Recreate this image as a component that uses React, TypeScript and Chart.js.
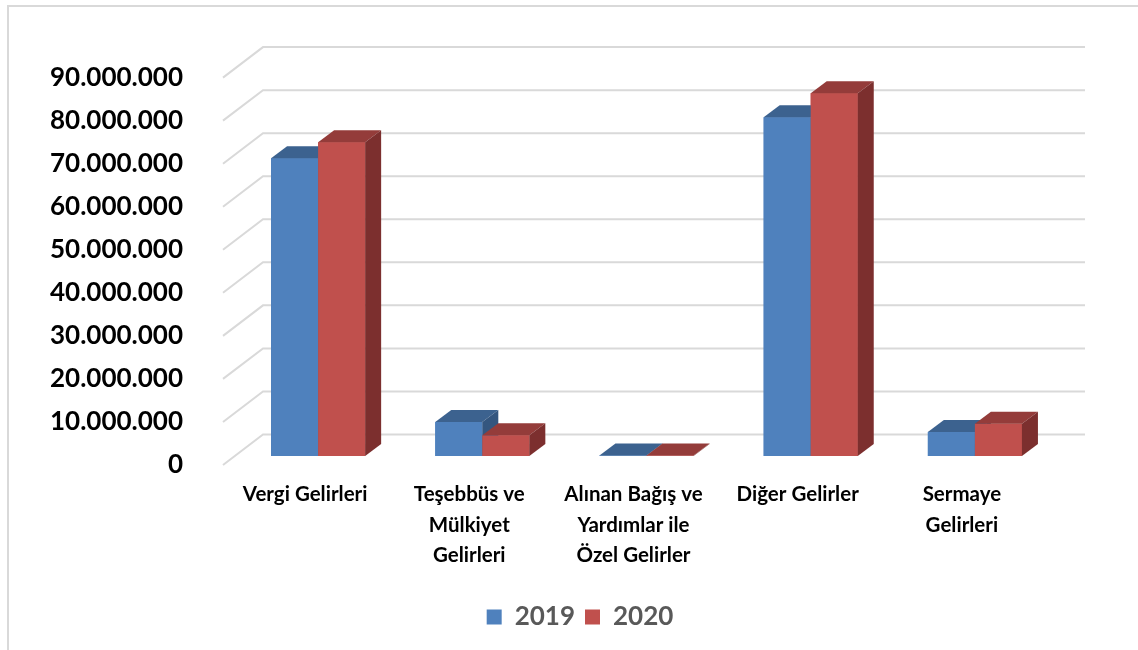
import React, { useEffect, useRef } from "react";
import { Chart, registerables } from "chart.js";

Chart.register(...registerables);

// Revenue categories (multi-line tick labels)
const categories: string[][] = [
  ["Vergi Gelirleri"],
  ["Teşebbüs ve", "Mülkiyet", "Gelirleri"],
  ["Alınan Bağış ve", "Yardımlar ile", "Özel Gelirler"],
  ["Diğer Gelirler"],
  ["Sermaye", "Gelirleri"],
];

const seriesNames = ["2019", "2020"];
const values2019 = [69200000, 7900000, 100000, 78700000, 5600000];
const values2020 = [72900000, 4800000, 100000, 84300000, 7500000];

const yMin = 0;
const yMax = 90000000;
const yStep = 10000000;

// Face colours per series: front, top, side
const frontColors = ["#4F81BD", "#C0504D"];
const topColors = ["#3C628F", "#943C3A"];
const sideColors = ["#34567F", "#7C2F2E"];

// Pseudo-3D geometry (pixels)
const BAR_DX = 16;
const BAR_DY = 12;
const WALL_DX = 27;
const WALL_DY = 21.5;
const FRONT_DX = -13;
const FRONT_DY = 9;

const formatThousands = (v: number) =>
  String(Math.round(v)).replace(/\B(?=(\d{3})+(?!\d))/g, ".");

const wallPlugin = {
  id: "wall3d",
  beforeDraw(chart: any) {
    const ctx = chart.ctx;
    ctx.save();
    ctx.strokeStyle = "#d9d9d9";
    ctx.lineWidth = 2;
    ctx.beginPath();
    ctx.moveTo(8, chart.height);
    ctx.lineTo(8, 6);
    ctx.lineTo(chart.width, 6);
    ctx.stroke();
    ctx.restore();
  },
  beforeDatasetsDraw(chart: any) {
    const ctx = chart.ctx;
    const { left, right } = chart.chartArea;
    const y = chart.scales.y;
    ctx.save();
    ctx.strokeStyle = "#d9d9d9";
    ctx.lineWidth = 2;
    for (let v = yMin; v <= yMax; v += yStep) {
      const py = y.getPixelForValue(v);
      ctx.beginPath();
      ctx.moveTo(left + FRONT_DX, py + FRONT_DY);
      ctx.lineTo(left + WALL_DX, py - WALL_DY);
      ctx.lineTo(right + WALL_DX + 1, py - WALL_DY);
      ctx.stroke();
    }
    ctx.restore();
  },
  afterDatasetsDraw(chart: any) {
    const ctx = chart.ctx;
    ctx.save();
    chart.data.datasets.forEach((_: any, i: number) => {
      const meta = chart.getDatasetMeta(i);
      meta.data.forEach((bar: any) => {
        const { x, y, base, width } = bar.getProps(["x", "y", "base", "width"], true);
        const l = x - width / 2;
        const r = x + width / 2;
        // front
        ctx.fillStyle = frontColors[i];
        ctx.fillRect(l, y, width, base - y);
        // top
        ctx.fillStyle = topColors[i];
        ctx.beginPath();
        ctx.moveTo(l, y);
        ctx.lineTo(r, y);
        ctx.lineTo(r + BAR_DX, y - BAR_DY);
        ctx.lineTo(l + BAR_DX, y - BAR_DY);
        ctx.closePath();
        ctx.fill();
        // side
        ctx.fillStyle = sideColors[i];
        ctx.beginPath();
        ctx.moveTo(r, y);
        ctx.lineTo(r + BAR_DX, y - BAR_DY);
        ctx.lineTo(r + BAR_DX, base - BAR_DY);
        ctx.lineTo(r, base);
        ctx.closePath();
        ctx.fill();
      });
    });
    ctx.restore();
  },
};

export default function App() {
  const canvasRef = useRef<HTMLCanvasElement | null>(null);

  useEffect(() => {
    if (!canvasRef.current) return;
    const chart = new Chart(canvasRef.current, {
      type: "bar",
      data: {
        labels: categories,
        datasets: [
          {
            label: seriesNames[0],
            data: values2019,
            backgroundColor: frontColors[0],
            borderWidth: 0,
          },
          {
            label: seriesNames[1],
            data: values2020,
            backgroundColor: frontColors[1],
            borderWidth: 0,
          },
        ],
      },
      options: {
        animation: false,
        responsive: false,
        devicePixelRatio: 1,
        layout: { padding: { left: 22, right: 0, top: 66, bottom: 10 } },
        datasets: {
          bar: { categoryPercentage: 0.573, barPercentage: 1 },
        },
        plugins: {
          tooltip: { enabled: false },
          legend: {
            position: "bottom",
            labels: {
              boxWidth: 15,
              boxHeight: 15,
              color: "#595959",
              font: { family: "Lato", weight: "bold", size: 26 },
              padding: 10,
            },
          },
        },
        scales: {
          x: {
            grid: { display: false, drawTicks: false },
            border: { display: false },
            ticks: {
              color: "#000000",
              font: { family: "Lato", weight: "bold", size: 20.5, lineHeight: 1.5 },
              labelOffset: -13,
              padding: 23,
              maxRotation: 0,
              autoSkip: false,
            },
            afterFit: (s: any) => {
              s.height = 138;
            },
          },
          y: {
            min: yMin,
            max: yMax,
            grid: { display: false, drawTicks: false },
            border: { display: false },
            ticks: {
              stepSize: yStep,
              color: "#000000",
              font: { family: "Lato", weight: "bold", size: 26 },
              padding: 53,
              labelOffset: 9,
              callback: (v: any) => formatThousands(Number(v)),
            },
            afterFit: (s: any) => {
              s.width = 214;
            },
          },
          // empty right-hand axis reserving the space beyond the back wall
          yRight: {
            type: "linear",
            position: "right",
            display: true,
            grid: { display: false, drawTicks: false },
            border: { display: false },
            ticks: { display: false },
            afterFit: (s: any) => {
              s.width = 81;
            },
          },
        },
      },
      plugins: [wallPlugin],
    } as any);
    return () => chart.destroy();
  }, []);

  return (
    <div style={{ position: "fixed", left: 0, top: 0, width: 1138, height: 650, background: "#ffffff" }}>
      <canvas ref={canvasRef} width={1138} height={650} />
    </div>
  );
}
